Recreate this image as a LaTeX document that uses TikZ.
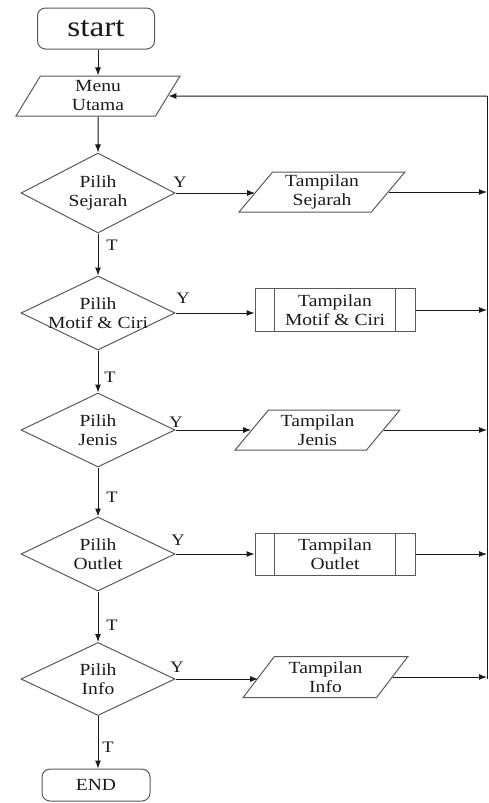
\documentclass[tikz,border=0pt]{standalone}
\usepackage{fontspec}
\setmainfont{Liberation Serif}[FakeStretch=1.15]
\usetikzlibrary{shapes.geometric,arrows.meta}
\begin{document}
\begin{tikzpicture}[x=1pt,y=-1pt,
  every node/.style={font=\fontsize{17}{19}\selectfont, align=center, inner sep=0pt, text=black!90},
  shp/.style={draw=black!65, line width=1pt},
  term/.style={shp, rectangle, rounded corners=8pt},
  io/.style={shp, trapezium, trapezium stretches=true, minimum height=40pt},
  dec/.style={shp, diamond, minimum width=154pt},
  proc/.style={shp, rectangle, minimum width=160pt, minimum height=43pt,
    append after command={
      \pgfextra{\draw[black!65, line width=1pt]
        ([xshift=20pt]\tikzlastnode.north west) -- ([xshift=20pt]\tikzlastnode.south west)
        ([xshift=-20pt]\tikzlastnode.north east) -- ([xshift=-20pt]\tikzlastnode.south east);}}},
  lbl/.style={font=\fontsize{16}{18}\selectfont},
  arr/.style={draw=black!90, line width=1pt, -{Latex[length=8pt,width=6pt]}},
  ln/.style={draw=black!90, line width=1pt}
]
\useasboundingbox (0,0) rectangle (488,803);

\node[term, minimum width=117pt, minimum height=41pt, font=\fontsize{29}{31}\selectfont] (start) at (96,28.5) {start};
\node[io, minimum width=165pt, trapezium left angle=70, trapezium right angle=110] (m) at (98,96) {Menu\\Utama};

\node[dec, minimum height=80pt, label={[align=center]center:Pilih\\Sejarah}] (d1) at (98,193) {};
\node[dec, minimum height=74pt, label={[align=center]center:Pilih\\Motif \& Ciri}] (d2) at (98,313) {};
\node[dec, minimum height=74pt, label={[align=center]center:Pilih\\Jenis}] (d3) at (98,430) {};
\node[dec, minimum height=74pt, label={[align=center]center:Pilih\\Outlet}] (d4) at (98,554) {};
\node[dec, minimum height=73pt, label={[align=center]center:Pilih\\Info}] (d5) at (98,679) {};

\node[io, minimum width=166pt, trapezium left angle=54, trapezium right angle=126] (t1) at (322,192) {Tampilan\\Sejarah};
\node[proc] (t2) at (335,310) {Tampilan\\Motif \& Ciri};
\node[io, minimum width=165pt, trapezium left angle=51, trapezium right angle=129] (t3) at (317.5,430) {Tampilan\\Jenis};
\node[proc, minimum height=42pt] (t4) at (335,554) {Tampilan\\Outlet};
\node[io, minimum width=165pt, minimum height=41pt, trapezium left angle=54, trapezium right angle=126] (t5) at (325.5,677) {Tampilan\\Info};

\node[term, minimum width=108pt, minimum height=32pt] (e) at (96,785) {END};

\coordinate (rt) at (487,96);
\coordinate (rb) at (487,679);

% main flow
\draw[arr] (start.south -| m.north) -- (m.north);
\draw[arr] (m) -- (d1);
\draw[arr] (d1) -- (d2);
\draw[arr] (d2) -- (d3);
\draw[arr] (d3) -- (d4);
\draw[arr] (d4) -- (d5);
\draw[arr] (d5.south) -- (d5.south |- e.north);

% yes branches
\draw[arr] (d1.east) -- (d1.east -| t1.west);
\draw[arr] (d2.east) -- (d2.east -| t2.west);
\draw[arr] (d3.east) -- (d3.east -| t3.west);
\draw[arr] (d4.east) -- (d4.east -| t4.west);
\draw[arr] (d5.east) -- (d5.east -| t5.west);

% outputs to return line
\draw[arr] (t1.east) -- (t1.east -| rb);
\draw[arr] (t2.east) -- (t2.east -| rb);
\draw[arr] (t3.east) -- (t3.east -| rb);
\draw[arr] (t4.east) -- (t4.east -| rb);
\draw[arr] (t5.east) -- (t5.east -| rb);
\draw[ln] (rb) -- (rt);
\draw[arr] (rt) -- (m.east);

% labels
\node[lbl] (y1) at (180,182) {Y};
\node[lbl] (y2) at (183,298) {Y};
\node[lbl] (y3) at (176,422) {Y};
\node[lbl] (y4) at (178,540) {Y};
\node[lbl] (y5) at (177,667) {Y};
\node[lbl] (n1) at (112,245) {T};
\node[lbl] (n2) at (110,377) {T};
\node[lbl] (n3) at (112,497) {T};
\node[lbl] (n4) at (112,625) {T};
\node[lbl] (n5) at (108,747) {T};
\end{tikzpicture}
\end{document}
